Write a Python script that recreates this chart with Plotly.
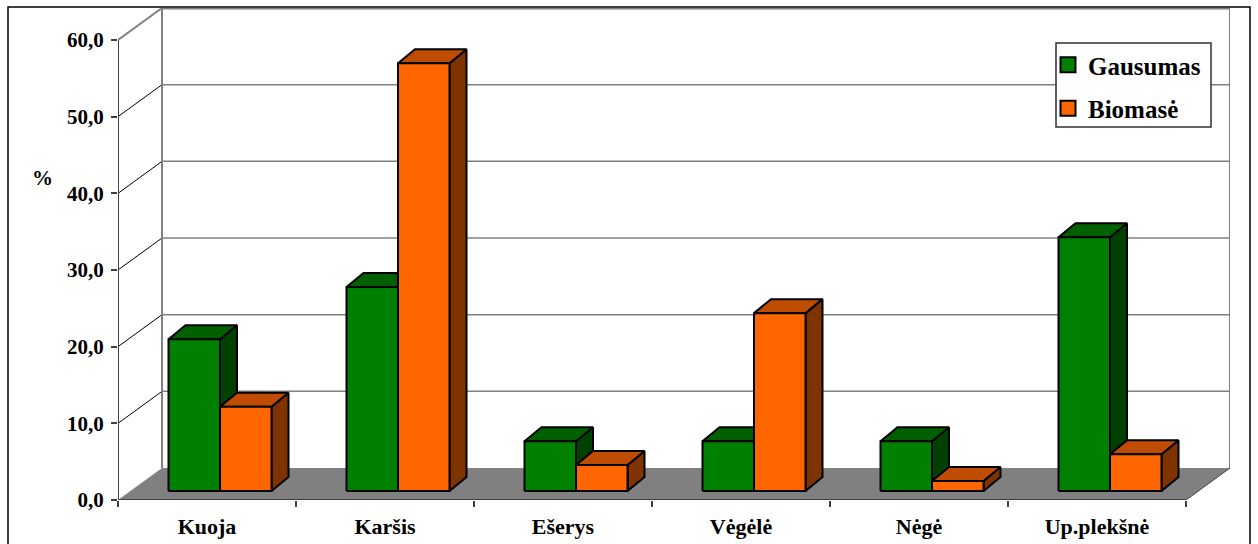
#!/usr/bin/env python3
"""Fish catch shares, drawn as a fake-3D column chart (Excel look)"""

import plotly.graph_objects as go

categories = ["Kuoja", "Karšis", "Ešerys", "Vėgėlė", "Nėgė", "Up.plekšnė"]
gausumas = [19.8, 26.6, 6.5, 6.5, 6.5, 33.1]
biomase = [11.0, 55.8, 3.4, 23.2, 1.3, 4.8]
y_ticks = [0, 10, 20, 30, 40, 50, 60]
y_tick_labels = ["0,0", "10,0", "20,0", "30,0", "40,0", "50,0", "60,0"]

# pixel scale of the plot, used to turn the depth effect into axis units
W, H = 1258, 544
LEFT, RIGHT, TOP, BOTTOM = 118, 28, 8, 44
PX_X = 178.0  # one category
PX_Y = 460.0 / 60  # one percent

WALL_DX, WALL_DY = 44 / PX_X, 32 / PX_Y
BAR_W = 51.5 / PX_X
BAR_DX, BAR_DY = 17 / PX_X, 14 / PX_Y
SHIFT_X, SHIFT_Y = 13 / PX_X, 9 / PX_Y

SERIF = "Liberation Serif"
GRID = "#808080"


def paper_x(px):
    return (px - LEFT) / (W - LEFT - RIGHT)


def paper_y(px):
    return 1 - (px - TOP) / (H - TOP - BOTTOM)


def faces(values, series_idx):
    """Front, top and side polygons of every bar in one series."""
    front_x, front_y, top_x, top_y, side_x, side_y = [], [], [], [], [], []
    for i, v in enumerate(values):
        x0 = i + SHIFT_X + (series_idx - 1) * BAR_W
        x1 = x0 + BAR_W
        y0, y1 = SHIFT_Y, SHIFT_Y + v
        front_x += [x0, x1, x1, x0, x0, None]
        front_y += [y0, y0, y1, y1, y0, None]
        top_x += [x0, x1, x1 + BAR_DX, x0 + BAR_DX, x0, None]
        top_y += [y1, y1, y1 + BAR_DY, y1 + BAR_DY, y1, None]
        side_x += [x1, x1 + BAR_DX, x1 + BAR_DX, x1, x1, None]
        side_y += [y0, y0 + BAR_DY, y1 + BAR_DY, y1, y0, None]
    return (front_x, front_y), (top_x, top_y), (side_x, side_y)


def poly(xy, color):
    return go.Scatter(
        x=xy[0],
        y=xy[1],
        mode="lines",
        fill="toself",
        fillcolor=color,
        line=dict(color="#000000", width=2),
        showlegend=False,
        hoverinfo="skip",
        cliponaxis=False,
    )


def line(xs, ys, color, width):
    return go.Scatter(
        x=xs,
        y=ys,
        mode="lines",
        line=dict(color=color, width=width),
        showlegend=False,
        hoverinfo="skip",
        cliponaxis=False,
    )


fig = go.Figure()

xa, xb = -0.5, len(categories) - 0.5

# floor
fig.add_trace(
    go.Scatter(
        x=[xa, xb, xb + WALL_DX, xa + WALL_DX, xa],
        y=[0, 0, WALL_DY, WALL_DY, 0],
        mode="none",
        fill="toself",
        fillcolor=GRID,
        showlegend=False,
        hoverinfo="skip",
    )
)

# back wall grid and the slanted lines on the side wall
for v in y_ticks[1:]:
    top = v == y_ticks[-1]
    fig.add_trace(
        line([xa + WALL_DX, xb + WALL_DX], [v + WALL_DY] * 2, GRID, 3 if top else 1.5)
    )
    fig.add_trace(
        line([xa, xa + WALL_DX], [v, v + WALL_DY], GRID if top else "#000000", 2 if top else 1)
    )
fig.add_trace(line([xa + WALL_DX] * 2, [WALL_DY, 60 + WALL_DY], GRID, 2))
fig.add_trace(line([xb + WALL_DX] * 2, [WALL_DY, 60 + WALL_DY], GRID, 2))

# front axes
fig.add_trace(line([xa, xa], [0, 60], "#404040", 2))
fig.add_trace(line([xa, xb], [0, 0], "#404040", 2))
fig.add_trace(line([xb, xb + WALL_DX], [0, WALL_DY], "#404040", 1))

# bars, green first so the orange ones overlap its side
for idx, (values, colors) in enumerate(
    [
        (gausumas, ("#008000", "#006000", "#004000")),
        (biomase, ("#FF6600", "#BF4C00", "#7F3300")),
    ]
):
    front, top_face, side = faces(values, idx)
    fig.add_trace(poly(side, colors[2]))
    fig.add_trace(poly(top_face, colors[1]))
    fig.add_trace(poly(front, colors[0]))

# legend entries
for name, color in [("Gausumas", "#008000"), ("Biomasė", "#FF6600")]:
    fig.add_trace(
        go.Scatter(
            x=[None],
            y=[None],
            mode="markers",
            name=name,
            legendgroup=name,
            marker=dict(symbol="square", size=15, color=color, line=dict(color="#000000", width=2)),
        )
    )

fig.update_layout(
    width=W,
    height=H,
    autosize=False,
    margin=dict(l=LEFT, r=RIGHT, t=TOP, b=BOTTOM, pad=0, autoexpand=False),
    paper_bgcolor="#FFFFFF",
    plot_bgcolor="#FFFFFF",
    font=dict(family=SERIF, color="#000000"),
    xaxis=dict(
        range=[xa, xb + WALL_DX],
        automargin=False,
        tickmode="array",
        tickvals=list(range(len(categories))),
        ticktext=categories,
        ticks="",
        ticklabelstandoff=11,
        showgrid=False,
        zeroline=False,
        showline=False,
        tickfont=dict(family=SERIF, size=22, color="#000000", weight="bold"),
        minor=dict(
            tickmode="array",
            tickvals=[i - 0.5 for i in range(len(categories) + 1)],
            ticks="outside",
            ticklen=6,
            tickwidth=1.5,
            tickcolor="#404040",
            showgrid=False,
        ),
    ),
    yaxis=dict(
        range=[0, 60 + WALL_DY],
        automargin=False,
        tickmode="array",
        tickvals=y_ticks,
        ticktext=y_tick_labels,
        ticks="outside",
        ticklen=6,
        tickwidth=1.5,
        tickcolor="#404040",
        ticklabelstandoff=3,
        showgrid=False,
        zeroline=False,
        showline=False,
        tickfont=dict(family=SERIF, size=21, color="#000000", weight="bold"),
    ),
    legend=dict(
        x=paper_x(1048),
        y=paper_y(42),
        xanchor="left",
        yanchor="top",
        bgcolor="rgba(0,0,0,0)",
        borderwidth=0,
        font=dict(family=SERIF, size=25, color="#000000", weight="bold"),
        itemsizing="trace",
        itemwidth=30,
        tracegroupgap=8,
    ),
    annotations=[
        dict(
            text="<b>%</b>",
            xref="paper",
            yref="paper",
            x=paper_x(42),
            y=paper_y(178),
            xanchor="center",
            yanchor="middle",
            showarrow=False,
            font=dict(family=SERIF, size=21, color="#000000"),
        )
    ],
    shapes=[
        # chart frame runs past the bottom of the window
        dict(
            type="rect",
            xref="paper",
            yref="paper",
            x0=paper_x(8),
            x1=paper_x(1250),
            y0=paper_y(560),
            y1=paper_y(7),
            line=dict(color="#000000", width=1.5),
            layer="below",
        ),
        # legend box
        dict(
            type="rect",
            xref="paper",
            yref="paper",
            x0=paper_x(1056),
            x1=paper_x(1211),
            y0=paper_y(127),
            y1=paper_y(43),
            line=dict(color="#303030", width=1.5),
            fillcolor="#FFFFFF",
            layer="above",
        ),
    ],
)

# the page's default body margin would push the chart 8px off the reference
fig.write_html(
    "out.html",
    post_script="document.body.style.margin = '0';",
    config={"displayModeBar": False},
)
